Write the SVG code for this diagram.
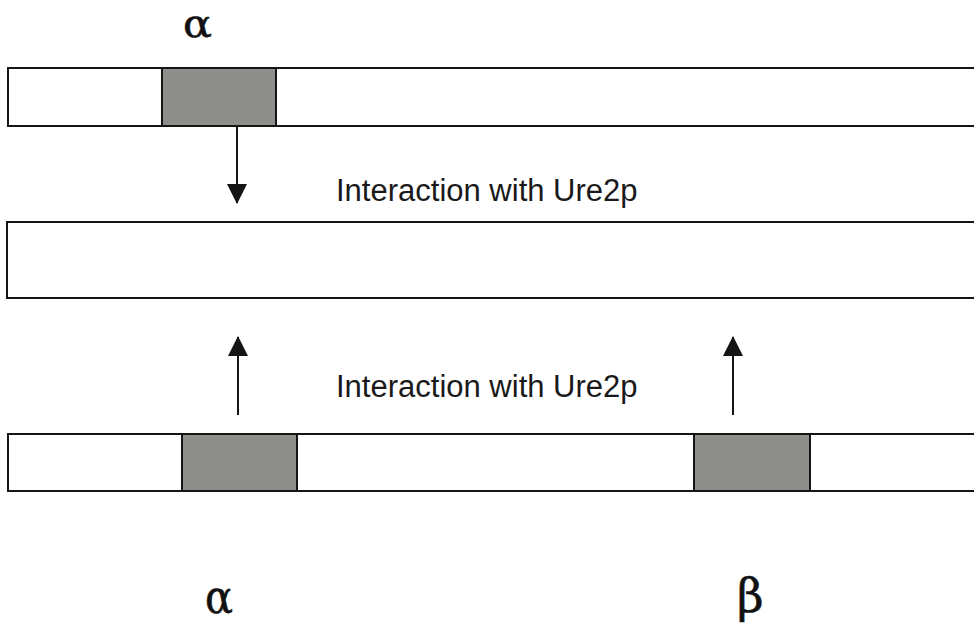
<svg xmlns="http://www.w3.org/2000/svg" width="974" height="623" viewBox="0 0 974 623">
  <defs>
    <style>
      .bar { fill: #ffffff; stroke: #151515; stroke-width: 2; }
      .dom { fill: #8e8e8a; stroke: #151515; stroke-width: 2; }
      .conn { stroke: #151515; stroke-width: 2; fill: none; }
      .lbl { font-family: "Liberation Sans", Arial, sans-serif; font-size: 31px; fill: #1a1a1a; }
      .greek { font-family: "DejaVu Serif", "Liberation Serif", serif; font-size: 46px; fill: #111; stroke: #111; stroke-width: 0.6; }
    </style>
    <marker id="head" markerUnits="userSpaceOnUse" markerWidth="20" markerHeight="20" refX="19" refY="10" orient="auto">
      <path d="M0,0 L20,10 L0,20 z" fill="#151515"/>
    </marker>
  </defs>
  <rect width="974" height="623" fill="#ffffff"/>

  <g id="protein-top">
    <rect class="bar" x="8" y="68" width="1000" height="58"/>
    <rect class="dom" x="162" y="68" width="114" height="58"/>
    <text class="greek" x="183" y="37" style="font-size:40px" textLength="29" lengthAdjust="spacingAndGlyphs">α</text>
  </g>

  <g id="ure2p">
    <rect class="bar" x="7" y="222" width="1000" height="76"/>
  </g>

  <g id="protein-bottom">
    <rect class="bar" x="8" y="434" width="1000" height="57"/>
    <rect class="dom" x="182" y="434" width="115" height="57"/>
    <rect class="dom" x="694" y="434" width="116" height="57"/>
    <text class="greek" x="205" y="613" textLength="28" lengthAdjust="spacingAndGlyphs">α</text>
    <text class="greek" x="737" y="612">β</text>
  </g>

  <g id="connectors">
    <line class="conn" x1="237" y1="126" x2="237" y2="203" marker-end="url(#head)"/>
    <line class="conn" x1="238" y1="415" x2="238" y2="337" marker-end="url(#head)"/>
    <line class="conn" x1="733" y1="415" x2="733" y2="337" marker-end="url(#head)"/>
    <text class="lbl" x="336" y="201">Interaction with Ure2p</text>
    <text class="lbl" x="336" y="397">Interaction with Ure2p</text>
  </g>
</svg>
